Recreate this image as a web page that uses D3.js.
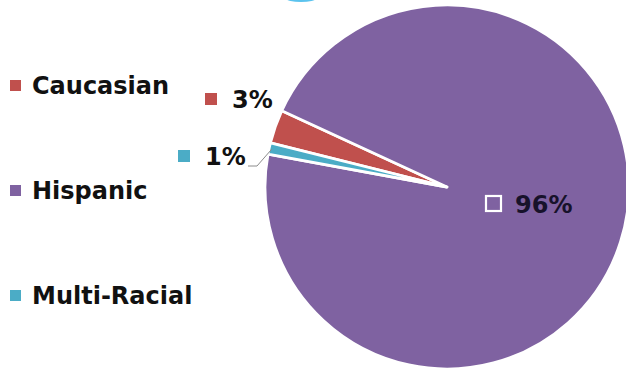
<!DOCTYPE html>
<html>
<head>
<meta charset="utf-8">
<script src="https://cdn.jsdelivr.net/npm/d3@7"></script>
<style>
  html, body { margin: 0; padding: 0; background: #fff; }
  svg { display: block; }
</style>
</head>
<body>
<div id="chart"></div>
<script>
// slices in drawing order (clockwise from the start angle)
let categories = ["Caucasian", "Hispanic", "Multi-Racial"];
let values = [3, 96, 1];
let labels = ["3%", "96%", "1%"];
let colors = ["#C0504D", "#7F62A1", "#4BACC6"];
// legend order
let legendOrder = ["Caucasian", "Hispanic", "Multi-Racial"];

let width = 626, height = 370;
let cx = 447, cy = 187, radius = 182;
let startDeg = 284;

let svg = d3.select("#chart").append("svg")
  .attr("width", width)
  .attr("height", height);

// little blue fragment cut off at the top of the picture
svg.append("ellipse")
  .attr("cx", 301).attr("cy", -1.5)
  .attr("rx", 15).attr("ry", 3.5)
  .attr("fill", "#5BC3EE");

let color = d3.scaleOrdinal().domain(categories).range(colors);

let pie = d3.pie()
  .sort(null)
  .value(d => d.value)
  .startAngle(startDeg * Math.PI / 180)
  .endAngle(startDeg * Math.PI / 180 + 2 * Math.PI);

let data = categories.map((c, i) => ({ name: c, value: values[i], label: labels[i] }));
let arcs = pie(data);

let arc = d3.arc().innerRadius(0).outerRadius(radius);
let rim = d3.arc().innerRadius(radius * 0.985).outerRadius(radius * 0.985);

let g = svg.append("g").attr("transform", `translate(${cx},${cy})`);

g.selectAll("path.slice")
  .data(arcs)
  .join("path")
  .attr("class", "slice")
  .attr("d", arc)
  .attr("fill", d => color(d.data.name))
  .attr("stroke", "#fff")
  .attr("stroke-width", 2.8)
  .attr("stroke-linejoin", "round");

// data label placement relative to the pie centre (text start, baseline)
let labelPos = {
  "Caucasian": [-215, -79],
  "Multi-Racial": [-242, -22],
  "Hispanic": [68, 26]
};

let font = "'DejaVu Sans', sans-serif";

let lab = g.selectAll("g.lab")
  .data(arcs)
  .join("g")
  .attr("class", "lab")
  .attr("transform", d => `translate(${labelPos[d.data.name][0]},${labelPos[d.data.name][1]})`);

lab.append("rect")
  .attr("x", d => d.data.name === "Hispanic" ? -29 : -27)
  .attr("y", d => d.data.name === "Hispanic" ? -17 : -15)
  .attr("width", d => d.data.name === "Hispanic" ? 15 : 12)
  .attr("height", d => d.data.name === "Hispanic" ? 15 : 12)
  .attr("fill", d => color(d.data.name))
  .attr("stroke", d => d.data.name === "Hispanic" ? "#fff" : "none")
  .attr("stroke-width", 2.2);

lab.append("text")
  .attr("x", 0).attr("y", 0)
  .style("font-family", font)
  .style("font-weight", "bold")
  .style("font-size", "24px")
  .attr("fill", d => d.data.name === "Hispanic" ? "#17122b" : "#111")
  .text(d => d.data.label);

// leader line for the small slice
let small = arcs.find(d => d.data.name === "Multi-Racial");
let tip = rim.centroid(small);
let textEnd = labelPos["Multi-Racial"][0] + 38;
let lineY = labelPos["Multi-Racial"][1] + 1;
g.append("path")
  .attr("d", d3.line()([[textEnd + 5, lineY], [textEnd + 14, lineY], tip]))
  .attr("fill", "none")
  .attr("stroke", "#8c8c8c")
  .attr("stroke-width", 1);

// legend
let legend = svg.append("g").attr("transform", "translate(10,94)");
let row = legend.selectAll("g")
  .data(legendOrder)
  .join("g")
  .attr("transform", (d, i) => `translate(0,${i * 105})`);

row.append("rect")
  .attr("x", 0).attr("y", -14)
  .attr("width", 11).attr("height", 11)
  .attr("fill", d => color(d));

row.append("text")
  .attr("x", 22).attr("y", 0)
  .style("font-family", font)
  .style("font-weight", "bold")
  .style("font-size", "24px")
  .attr("fill", "#111")
  .text(d => d);
</script>
</body>
</html>
